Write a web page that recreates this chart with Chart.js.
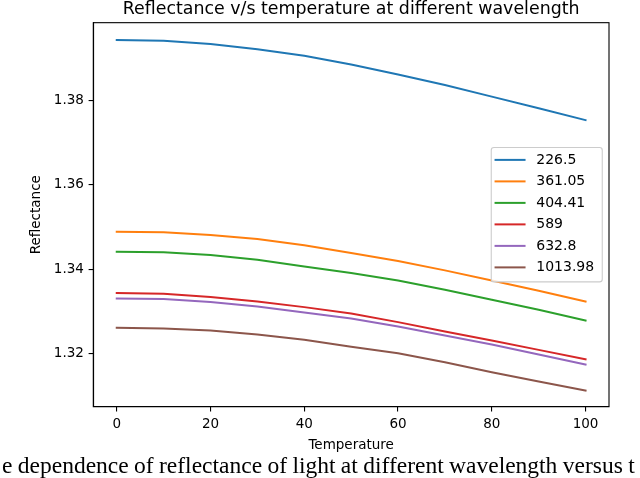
<!doctype html>
<html>
<head>
    <title>Reflectance v/s temperature</title>
    <script src="https://cdn.jsdelivr.net/npm/chart.js"></script>
    <style>
        body { margin: 0; background: #fff; }
        #wrap { position: relative; width: 640px; height: 478px; overflow: hidden; }
        #caption {
            position: absolute; left: 2px; top: 452.3px;
            font-family: "Liberation Serif", serif; font-size: 23.5px; line-height: 27px;
            word-spacing: -0.5px; white-space: nowrap; color: #000;
        }
    </style>
</head>
<body>
<div id="wrap">
    <canvas id="myChart" width="640" height="478"></canvas>
    <div id="caption">e dependence of reflectance of light at different wavelength versus t</div>
</div>

<script>
    // temperature points
    var temperature = [0, 10, 20, 30, 40, 50, 60, 70, 80, 90, 100];

    // reflectance, one array per wavelength
    var wl226 = [1.39445, 1.39425, 1.39350, 1.39224, 1.39070, 1.38862, 1.38625, 1.38374, 1.38100, 1.37825, 1.37540];
    var wl361 = [1.34890, 1.34874, 1.34810, 1.34715, 1.34564, 1.34382, 1.34191, 1.33969, 1.33731, 1.33485, 1.33231];
    var wl404 = [1.34413, 1.34398, 1.34334, 1.34223, 1.34064, 1.33906, 1.33731, 1.33509, 1.33271, 1.33033, 1.32779];
    var wl589 = [1.33429, 1.33414, 1.33334, 1.33231, 1.33096, 1.32945, 1.32739, 1.32517, 1.32302, 1.32080, 1.31858];
    var wl632 = [1.33302, 1.33287, 1.33215, 1.33112, 1.32969, 1.32826, 1.32636, 1.32421, 1.32207, 1.31969, 1.31731];
    var wl1013 = [1.32604, 1.32588, 1.32540, 1.32445, 1.32318, 1.32152, 1.32001, 1.31786, 1.31548, 1.31326, 1.31112];

    var seriesLabels = ['226.5', '361.05', '404.41', '589', '632.8', '1013.98'];
    var seriesValues = [wl226, wl361, wl404, wl589, wl632, wl1013];
    var colors = ['#1f77b4', '#ff7f0e', '#2ca02c', '#d62728', '#9467bd', '#8c564b'];

    var xTicks = [0, 20, 40, 60, 80, 100];
    var yTicks = [1.32, 1.34, 1.36, 1.38];

    var font = 'DejaVu Sans';

    // box around the axes + legend placed like matplotlib's "center right"
    var framePlugin = {
        id: 'frame',
        afterDraw: function (chart) {
            var c = chart.ctx, a = chart.chartArea;
            c.save();
            c.strokeStyle = '#000';
            c.lineWidth = 1.1;
            c.strokeRect(a.left, a.top, a.right - a.left, a.bottom - a.top);

            var w = 111, h = 134.4;
            var left = a.right - 6.75 - w;
            var top = (a.top + a.bottom) / 2 - h / 2;
            c.beginPath();
            c.roundRect(left, top, w, h, 2.7);
            c.fillStyle = 'rgba(255,255,255,0.8)';
            c.fill();
            c.strokeStyle = '#cccccc';
            c.lineWidth = 1.1;
            c.stroke();

            c.font = '14px "' + font + '"';
            c.textBaseline = 'middle';
            c.textAlign = 'left';
            chart.data.datasets.forEach(function (ds, i) {
                var y = top + 12.4 + i * 21.5;
                c.beginPath();
                c.moveTo(left + 3.3, y);
                c.lineTo(left + 34.3, y);
                c.strokeStyle = ds.borderColor;
                c.lineWidth = 2;
                c.stroke();
                c.fillStyle = '#000';
                c.fillText(ds.label, left + 45, y);
            });
            c.restore();
        }
    };

    var ctx = document.getElementById('myChart').getContext('2d');
    var chart = new Chart(ctx, {
        type: 'line',
        data: {
            datasets: seriesValues.map(function (vals, i) {
                return {
                    label: seriesLabels[i],
                    data: temperature.map(function (t, j) { return {x: t, y: vals[j]}; }),
                    borderColor: colors[i],
                    borderWidth: 2,
                    pointRadius: 0,
                    tension: 0,
                    fill: false,
                    borderCapStyle: 'square',
                    borderJoinStyle: 'round',
                    order: -i
                };
            })
        },
        options: {
            responsive: false,
            animation: false,
            layout: { padding: { left: 0, right: 31, top: 0, bottom: 0 } },
            plugins: {
                legend: { display: false },
                tooltip: { enabled: false },
                title: {
                    display: true,
                    text: 'Reflectance v/s temperature at different wavelength',
                    fullSize: false,
                    color: '#000',
                    font: { family: font, size: 17.4, weight: 'normal' },
                    padding: { top: -1.4, bottom: 3.2 }
                }
            },
            scales: {
                x: {
                    type: 'linear',
                    min: -5,
                    max: 105,
                    afterBuildTicks: function (s) { s.ticks = xTicks.map(function (v) { return {value: v}; }); },
                    afterFit: function (s) { s.height = 71.3; },
                    ticks: {
                        color: '#000',
                        padding: 4.7,
                        font: { family: font, size: 13.5 },
                        maxRotation: 0
                    },
                    grid: { drawOnChartArea: false, drawTicks: true, tickLength: 4.7, color: '#000', lineWidth: 1.1 },
                    border: { display: true, color: '#000', width: 1.1 },
                    title: {
                        display: true,
                        text: 'Temperature',
                        color: '#000',
                        font: { family: font, size: 13.5 },
                        padding: { top: 0, bottom: 24.7 }
                    }
                },
                y: {
                    type: 'linear',
                    min: 1.30729,
                    max: 1.39857,
                    afterBuildTicks: function (s) { s.ticks = yTicks.map(function (v) { return {value: v}; }); },
                    afterFit: function (s) { s.width = 93.3; },
                    ticks: {
                        color: '#000',
                        padding: 4.7,
                        font: { family: font, size: 13.5 },
                        callback: function (v) { return v.toFixed(2); }
                    },
                    grid: { drawOnChartArea: false, drawTicks: true, tickLength: 4.7, color: '#000', lineWidth: 1.1 },
                    border: { display: true, color: '#000', width: 1.1 },
                    title: {
                        display: true,
                        text: 'Reflectance',
                        color: '#000',
                        font: { family: font, size: 13.5 },
                        padding: { top: 28.6, bottom: 0 }
                    }
                }
            }
        },
        plugins: [framePlugin]
    });
</script>
</body>
</html>
